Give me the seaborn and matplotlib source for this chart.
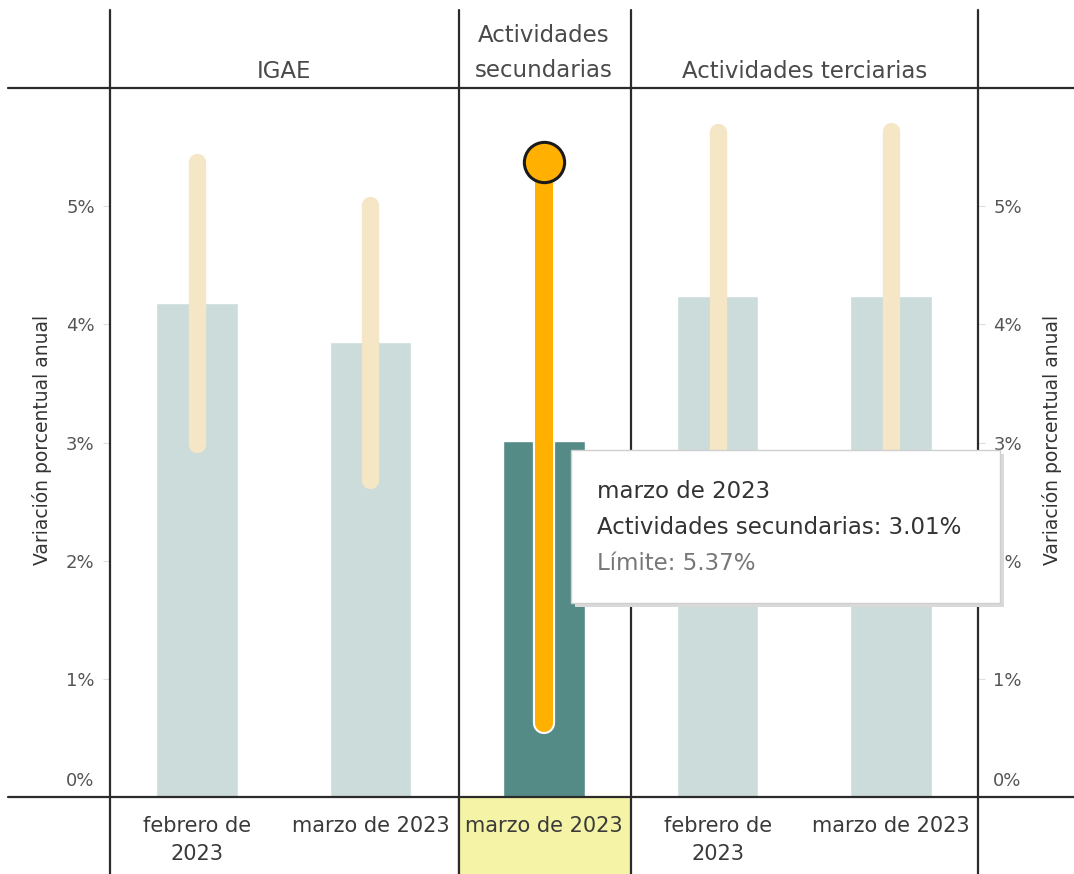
import matplotlib
matplotlib.use("Agg")
import matplotlib.pyplot as plt
import matplotlib.patheffects as pe
from matplotlib.lines import Line2D
from matplotlib.patches import Rectangle
from matplotlib.transforms import ScaledTranslation
import pandas as pd
import seaborn as sns

# datos
grupos = ["IGAE", "IGAE", "Actividades secundarias", "Actividades terciarias", "Actividades terciarias"]
periodos = ["febrero de\n2023", "marzo de 2023", "marzo de 2023", "febrero de\n2023", "marzo de 2023"]
variacion = [4.18, 3.85, 3.01, 4.24, 4.24]
limite_inf = [2.99, 2.68, 0.63, 2.50, 2.50]
limite_sup = [5.37, 5.01, 5.37, 5.63, 5.64]
resaltado = [False, False, True, False, False]
encabezados = ["IGAE", "Actividades\nsecundarias", "Actividades terciarias"]
ticks_y = [0, 1, 2, 3, 4, 5]

W, H = 1074, 874
fx = lambda x: x / W
fy = lambda y: 1 - y / H

sns.set_style("white")
plt.rcParams["font.family"] = ["DejaVu Sans"]

df = pd.DataFrame({
    "clave": [f"{g}|{p}" for g, p in zip(grupos, periodos)],
    "valor": variacion,
    "resaltado": ["si" if r else "no" for r in resaltado],
})

fig = plt.figure(figsize=(W / 100, H / 100), dpi=100)
ax = fig.add_axes([fx(110), fy(797), fx(978) - fx(110), fy(88) - fy(797)])

sns.barplot(data=df, x="clave", y="valor", hue="resaltado", order=list(df["clave"]),
            palette={"no": "#cbdcdb", "si": "#558b87"}, width=0.47, dodge=False,
            legend=False, saturation=1, ax=ax)

for i in range(len(variacion)):
    if resaltado[i]:
        ax.plot([i, i], [limite_inf[i], limite_sup[i]], color="#ffb000", lw=13,
                solid_capstyle="round", zorder=4,
                path_effects=[pe.withStroke(linewidth=16, foreground="white")])
        ax.plot(i, limite_sup[i], "o", ms=29, mfc="#ffb000", mec="#1a1a1a", mew=2.2, zorder=5)
    else:
        ax.plot([i, i], [limite_inf[i], limite_sup[i]], color="#f5e6c5", lw=12.5,
                solid_capstyle="round", zorder=3)

ax.set_xlim(-0.5, 4.5)
ax.set_ylim(0, 6)
ax.set_xlabel("")
ax.set_ylabel("")
for s in ax.spines.values():
    s.set_visible(False)

ax.set_xticks(range(len(periodos)))
ax.set_xticklabels(periodos, fontsize=15, color="#3a3a3a", linespacing=1.5)
ax.tick_params(axis="x", length=0, pad=14)

ax.set_yticks(ticks_y)
ax.set_yticklabels([f"{t}%" for t in ticks_y], fontsize=13, color="#555555")
ax.tick_params(axis="y", left=True, right=True, labelleft=True, labelright=True,
               length=5, width=0.8, color="#dddddd", pad=6)
off = ScaledTranslation(0, 0.18, fig.dpi_scale_trans)
t0 = ax.yaxis.get_major_ticks()[0]
t0.label1.set_transform(t0.label1.get_transform() + off)
t0.label2.set_transform(t0.label2.get_transform() + off)

# fondo amarillo de la etiqueta resaltada
ax.add_patch(Rectangle((1.5, -77 / 709), 1, 77 / 709, transform=ax.get_xaxis_transform(),
                       facecolor="#f5f3a6", edgecolor="none", clip_on=False, zorder=0))

# encabezados de grupo
ax.text(0.5, 1 + 16 / 709, encabezados[0], transform=ax.get_xaxis_transform(),
        ha="center", va="center", fontsize=16.5, color="#4a4a4a")
ax.text(2, 1 + 35 / 709, encabezados[1], transform=ax.get_xaxis_transform(),
        ha="center", va="center", fontsize=16.5, color="#4a4a4a", linespacing=1.7)
ax.text(3.5, 1 + 16 / 709, encabezados[2], transform=ax.get_xaxis_transform(),
        ha="center", va="center", fontsize=16.5, color="#4a4a4a")

# lineas de la tabla
kw = dict(color="#2b2b2b", lw=1.6, transform=fig.transFigure, zorder=6)
for y in (88, 797):
    fig.add_artist(Line2D([fx(8), fx(1074)], [fy(y), fy(y)], **kw))
for x in (110, 459, 631, 978):
    fig.add_artist(Line2D([fx(x), fx(x)], [fy(10), fy(874)], **kw))

fig.text(fx(42), fy(440), "Variación porcentual anual", rotation=90, ha="center",
         va="center", fontsize=13.5, color="#333333")
fig.text(fx(1052), fy(440), "Variación porcentual anual", rotation=90, ha="center",
         va="center", fontsize=13.5, color="#333333")

# tooltip
fig.add_artist(Rectangle((fx(575), fy(607)), fx(1004) - fx(575), fy(450) - fy(603),
                         transform=fig.transFigure, facecolor="#d9d9d9", edgecolor="none", zorder=9))
fig.add_artist(Rectangle((fx(571), fy(603)), fx(1000) - fx(571), fy(450) - fy(603),
                         transform=fig.transFigure, facecolor="white", edgecolor="#cfcfcf",
                         lw=1, zorder=10))
fig.text(fx(597), fy(492), "marzo de 2023", fontsize=16.5, color="#333333", va="center", zorder=11)
fig.text(fx(597), fy(527), f"{grupos[2]}: {variacion[2]:.2f}%", fontsize=16.5, color="#333333",
         va="center", zorder=11)
fig.text(fx(597), fy(563), f"Límite: {limite_sup[2]:.2f}%", fontsize=16.5, color="#777777",
         va="center", zorder=11)

fig.savefig("out.png", dpi=100)
